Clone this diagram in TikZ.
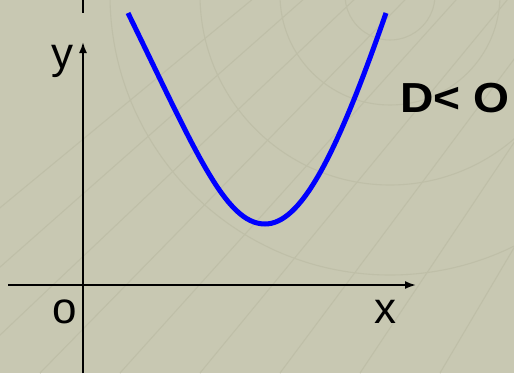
\documentclass[tikz,border=0pt]{standalone}
\usepackage{fontspec}
\setmainfont{Liberation Sans}
\usetikzlibrary{arrows.meta}
\definecolor{bg}{HTML}{C8C8B2}
\definecolor{tex}{HTML}{BFBFA8}
\begin{document}
\begin{tikzpicture}[x=1pt,y=-1pt,
  axis/.style={line width=1.8pt,-{Latex[length=11pt,width=8pt]}},
  lbl/.style={font=\fontsize{44}{44}\selectfont,inner sep=0pt,anchor=base},
  curve/.style={blue,line width=5pt}]
\fill[bg] (0,0) rectangle (514,373);
\useasboundingbox (0,0) rectangle (514,373);
% faint background texture
\begin{scope}[tex,line width=1.1pt]
\clip (0,0) rectangle (514,373);
\foreach \a in {195,203,...,350} \draw (390,-5) -- ++(\a:700);
\foreach \r in {45,110,190,280} \draw (390,-5) circle (\r);
\foreach \k in {-200,-120,...,600} \draw (\k,373) -- (\k*0.6+420,-40);
\end{scope}
\coordinate (xs) at (8,285);
\coordinate (xe) at (416,285);
\coordinate (ys) at (83,373);
\coordinate (ye) at (83,42);
\coordinate (ts) at (83,0);
\coordinate (te) at (83,13);
\draw[axis] (xs) -- (xe);
\draw[axis] (ys) -- (ye);
\draw[line width=1.8pt] (ts) -- (te);
\coordinate (p1) at (128,13);
\coordinate (pv) at (265,224);
\coordinate (p2) at (386,13);
\draw[curve] (p1) .. controls (195,150) and (225,224) .. (pv) .. controls (300,224) and (335,160) .. (p2);
\node[lbl] (ylab) at (62,68) {y};
\node[lbl] (olab) at (64.5,323) {o};
\node[lbl] (xlab) at (385,323) {x};
\node[lbl,anchor=base west,xscale=1.1,font=\fontsize{42}{42}\selectfont\bfseries] (dlab) at (400,112) {D< O};
\end{tikzpicture}
\end{document}
